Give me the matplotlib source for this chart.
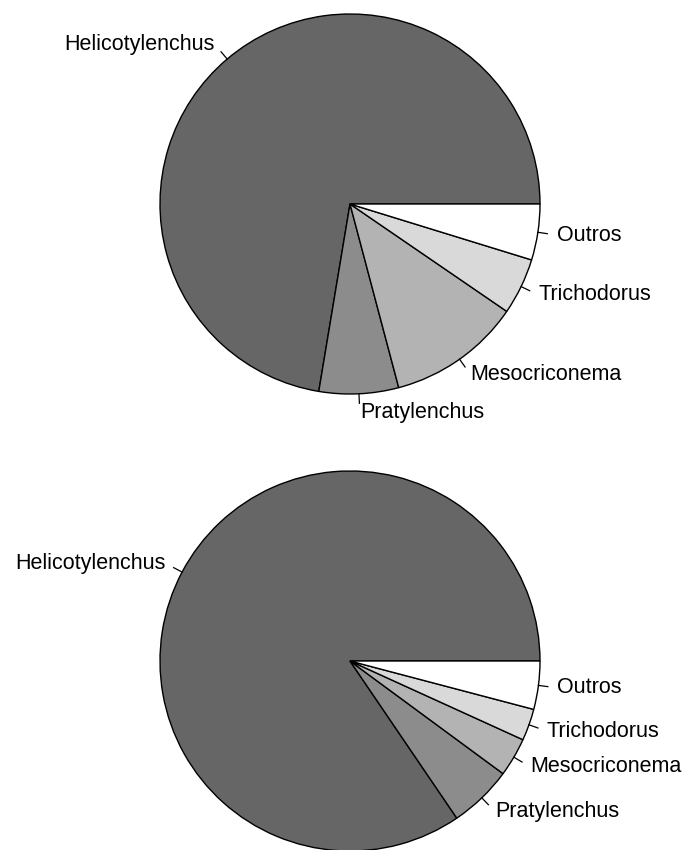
import numpy as np
import matplotlib
matplotlib.use('Agg')
import matplotlib.pyplot as plt

plt.rcParams['font.family'] = ['Liberation Sans', 'DejaVu Sans']

labels = ['Helicotylenchus', 'Pratylenchus', 'Mesocriconema', 'Trichodorus', 'Outros']
top_vals = [72.3, 6.75, 11.3, 4.8, 4.75]
bottom_vals = [84.5, 5.4, 3.3, 2.7, 4.1]
colors = ['#666666', '#8c8c8c', '#b3b3b3', '#d9d9d9', '#ffffff']


def draw_pie(ax, vals, center, radius):
    wedges, _ = ax.pie(vals, colors=colors, startangle=0, counterclock=True,
                       center=center, radius=radius,
                       wedgeprops=dict(edgecolor='black', linewidth=1.0))
    for w, lab in zip(wedges, labels):
        mid = np.deg2rad((w.theta1 + w.theta2) / 2)
        px, py = np.cos(mid), np.sin(mid)
        cx, cy = center
        ax.plot([cx + radius * px, cx + 1.05 * radius * px],
                [cy + radius * py, cy + 1.05 * radius * py],
                color='black', lw=0.9)
        ax.text(cx + 1.1 * radius * px, cy + 1.1 * radius * py, lab,
                ha='right' if px < 0 else 'left', va='center', fontsize=15.5)


fig = plt.figure(figsize=(6.88, 8.5), dpi=100)
ax = fig.add_axes([0, 0, 1, 1])
draw_pie(ax, top_vals, (350, 646), 190)
draw_pie(ax, bottom_vals, (350, 189), 190)
ax.set_xlim(0, 688)
ax.set_ylim(0, 850)
ax.set_aspect('equal')
ax.axis('off')
fig.savefig('out.png', dpi=100)
